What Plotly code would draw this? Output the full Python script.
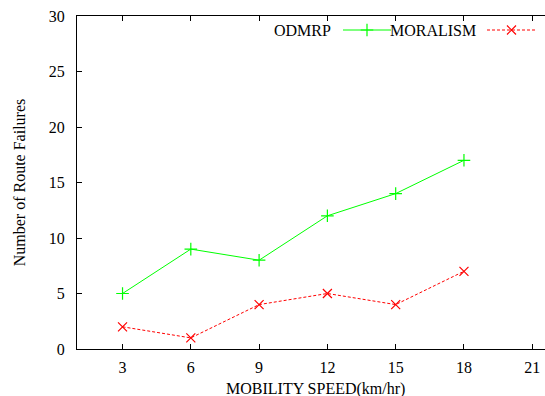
import plotly.graph_objects as go

speeds = [3, 6, 9, 12, 15, 18]
odmrp = [5, 9, 8, 12, 14, 17]
moralism = [2, 1, 4, 5, 4, 7]
x_ticks = [3, 6, 9, 12, 15, 18, 21]
y_ticks = [0, 5, 10, 15, 20, 25, 30]
names = ["ODMRP", "MORALISM"]
colors = ["#00ff00", "#ff0000"]
x_title = "MOBILITY SPEED(km/hr)"
y_title = "Number of Route Failures"

W, H = 545, 396
L, R, T, B = 77, 0, 16, 47
FONT = "Liberation Serif"
FS = 16

fig = go.Figure()
fig.add_trace(go.Scatter(
    x=speeds, y=odmrp, mode="lines+markers", name=names[0],
    line=dict(color=colors[0], width=1),
    marker=dict(symbol="cross-thin", size=9, line=dict(color=colors[0], width=1.2)),
    showlegend=False, cliponaxis=False))
fig.add_trace(go.Scatter(
    x=speeds, y=moralism, mode="lines+markers", name=names[1],
    line=dict(color=colors[1], width=1, dash="3px,2px"),
    marker=dict(symbol="x-thin", size=9, line=dict(color=colors[1], width=1.2)),
    showlegend=False, cliponaxis=False))

# legend samples on a pixel-coordinate overlay axis
leg_y = 30
samples = [(343, 391), (487, 536)]
fig.add_trace(go.Scatter(
    x=[samples[0][0], samples[0][1]], y=[leg_y, leg_y], mode="lines", xaxis="x2", yaxis="y2",
    line=dict(color=colors[0], width=1), showlegend=False, hoverinfo="skip"))
fig.add_trace(go.Scatter(
    x=[(samples[0][0] + samples[0][1]) / 2], y=[leg_y], mode="markers", xaxis="x2", yaxis="y2",
    marker=dict(symbol="cross-thin", size=9, line=dict(color=colors[0], width=1.2)),
    showlegend=False, hoverinfo="skip"))
fig.add_trace(go.Scatter(
    x=[samples[1][0], samples[1][1]], y=[leg_y, leg_y], mode="lines", xaxis="x2", yaxis="y2",
    line=dict(color=colors[1], width=1, dash="3px,2px"), showlegend=False, hoverinfo="skip"))
fig.add_trace(go.Scatter(
    x=[(samples[1][0] + samples[1][1]) / 2], y=[leg_y], mode="markers", xaxis="x2", yaxis="y2",
    marker=dict(symbol="x-thin", size=9, line=dict(color=colors[1], width=1.2)),
    showlegend=False, hoverinfo="skip"))

for name, xr in zip(names, [333, 478]):
    fig.add_annotation(x=xr, y=leg_y, xref="x2", yref="y2", text=name, showarrow=False,
                       xanchor="right", yanchor="middle",
                       font=dict(family=FONT, size=FS, color="black"))

# x-axis title, placed in paper coordinates below the plot
fig.add_annotation(x=(315.5 - L) / (W - L - R), y=-(389 - (H - B)) / (H - B - T),
                   xref="paper", yref="paper", text=x_title, showarrow=False,
                   xanchor="center", yanchor="middle",
                   font=dict(family=FONT, size=FS, color="black"))

fig.update_layout(
    width=W, height=H,
    margin=dict(l=L, r=R, t=T, b=B, pad=0),
    paper_bgcolor="white", plot_bgcolor="white",
    font=dict(family=FONT, size=FS, color="black"),
    xaxis=dict(range=[1, 21.56], tickvals=x_ticks, ticks="inside", ticklen=5, tickwidth=1,
               tickcolor="black", showline=True, linecolor="black", linewidth=1.3,
               mirror="ticks", showgrid=False, zeroline=False, ticklabelstandoff=4,
               automargin=False),
    yaxis=dict(range=[0, 30], tickvals=y_ticks, ticks="inside", ticklen=5, tickwidth=1,
               tickcolor="black", showline=True, linecolor="black", linewidth=1.3,
               showgrid=False, zeroline=False, ticklabelstandoff=8,
               automargin=False,
               title=dict(text=y_title, standoff=19,
                          font=dict(family=FONT, size=FS))),
    xaxis2=dict(overlaying="x", range=[L, W - R], visible=False, fixedrange=True),
    yaxis2=dict(overlaying="y", range=[H - B, T], visible=False, fixedrange=True),
)

fig.write_html("out.html")
